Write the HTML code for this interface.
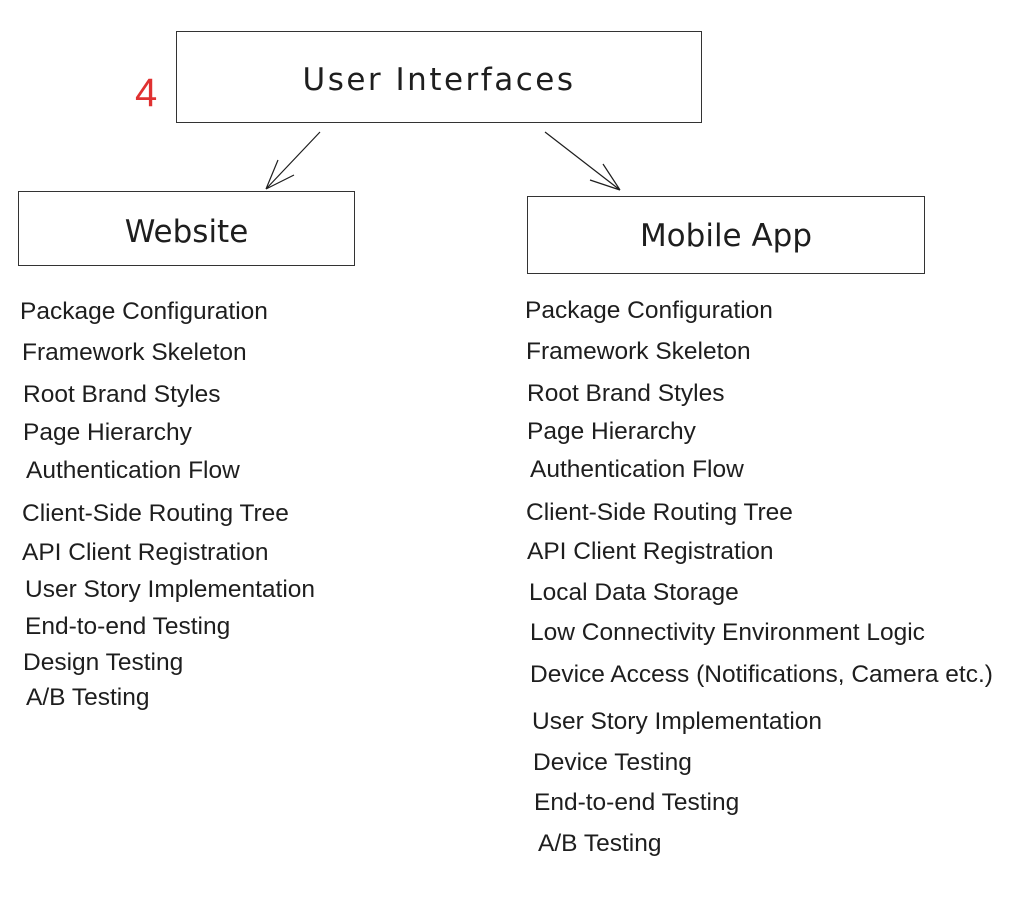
<!DOCTYPE html>
<html><head><meta charset="utf-8"><style>
body{margin:0;width:1030px;height:923px;background:#fff;position:relative;overflow:hidden;font-family:"Liberation Sans",sans-serif;color:#1e1e1e}
.b{position:absolute;border:1.3px solid #333;box-sizing:border-box;display:flex;align-items:center;justify-content:center;font-family:"Comic Sans MS","DejaVu Sans",sans-serif;font-size:31px;color:#1e1e1e}
.t{position:absolute;font-size:24.5px;line-height:28px;white-space:nowrap}
</style></head><body>
<div class="b" style="left:176px;top:31px;width:526px;height:92px;letter-spacing:2.5px;padding-top:6px">User Interfaces</div>
<div class="b" style="left:18px;top:191px;width:337px;height:75px;padding-top:6px">Website</div>
<div class="b" style="left:527px;top:196px;width:398px;height:78px;padding-top:2px">Mobile App</div>
<div style="position:absolute;left:135px;top:70px;font-size:40px;color:#e03131;line-height:46px">4</div>
<svg width="1030" height="923" style="position:absolute;left:0;top:0" fill="none" stroke="#1e1e1e" stroke-width="1.2">
<path d="M320 132 L266 189 M266 189 L278 160 M266 189 L294 175"/>
<path d="M545 132 L620 190 M620 190 L603 164 M620 190 L590 180"/>
</svg>
<div class="t" style="left:20px;top:298px">Package Configuration</div>
<div class="t" style="left:22px;top:339px">Framework Skeleton</div>
<div class="t" style="left:23px;top:381px">Root Brand Styles</div>
<div class="t" style="left:23px;top:419px">Page Hierarchy</div>
<div class="t" style="left:26px;top:457px">Authentication Flow</div>
<div class="t" style="left:22px;top:500px">Client-Side Routing Tree</div>
<div class="t" style="left:22px;top:539px">API Client Registration</div>
<div class="t" style="left:25px;top:576px">User Story Implementation</div>
<div class="t" style="left:25px;top:613px">End-to-end Testing</div>
<div class="t" style="left:23px;top:649px">Design Testing</div>
<div class="t" style="left:26px;top:684px">A/B Testing</div>

<div class="t" style="left:525px;top:297px">Package Configuration</div>
<div class="t" style="left:526px;top:338px">Framework Skeleton</div>
<div class="t" style="left:527px;top:380px">Root Brand Styles</div>
<div class="t" style="left:527px;top:418px">Page Hierarchy</div>
<div class="t" style="left:530px;top:456px">Authentication Flow</div>
<div class="t" style="left:526px;top:499px">Client-Side Routing Tree</div>
<div class="t" style="left:527px;top:538px">API Client Registration</div>
<div class="t" style="left:529px;top:579px">Local Data Storage</div>
<div class="t" style="left:530px;top:619px">Low Connectivity Environment Logic</div>
<div class="t" style="left:530px;top:661px">Device Access (Notifications, Camera etc.)</div>
<div class="t" style="left:532px;top:708px">User Story Implementation</div>
<div class="t" style="left:533px;top:749px">Device Testing</div>
<div class="t" style="left:534px;top:789px">End-to-end Testing</div>
<div class="t" style="left:538px;top:830px">A/B Testing</div>
</body></html>
